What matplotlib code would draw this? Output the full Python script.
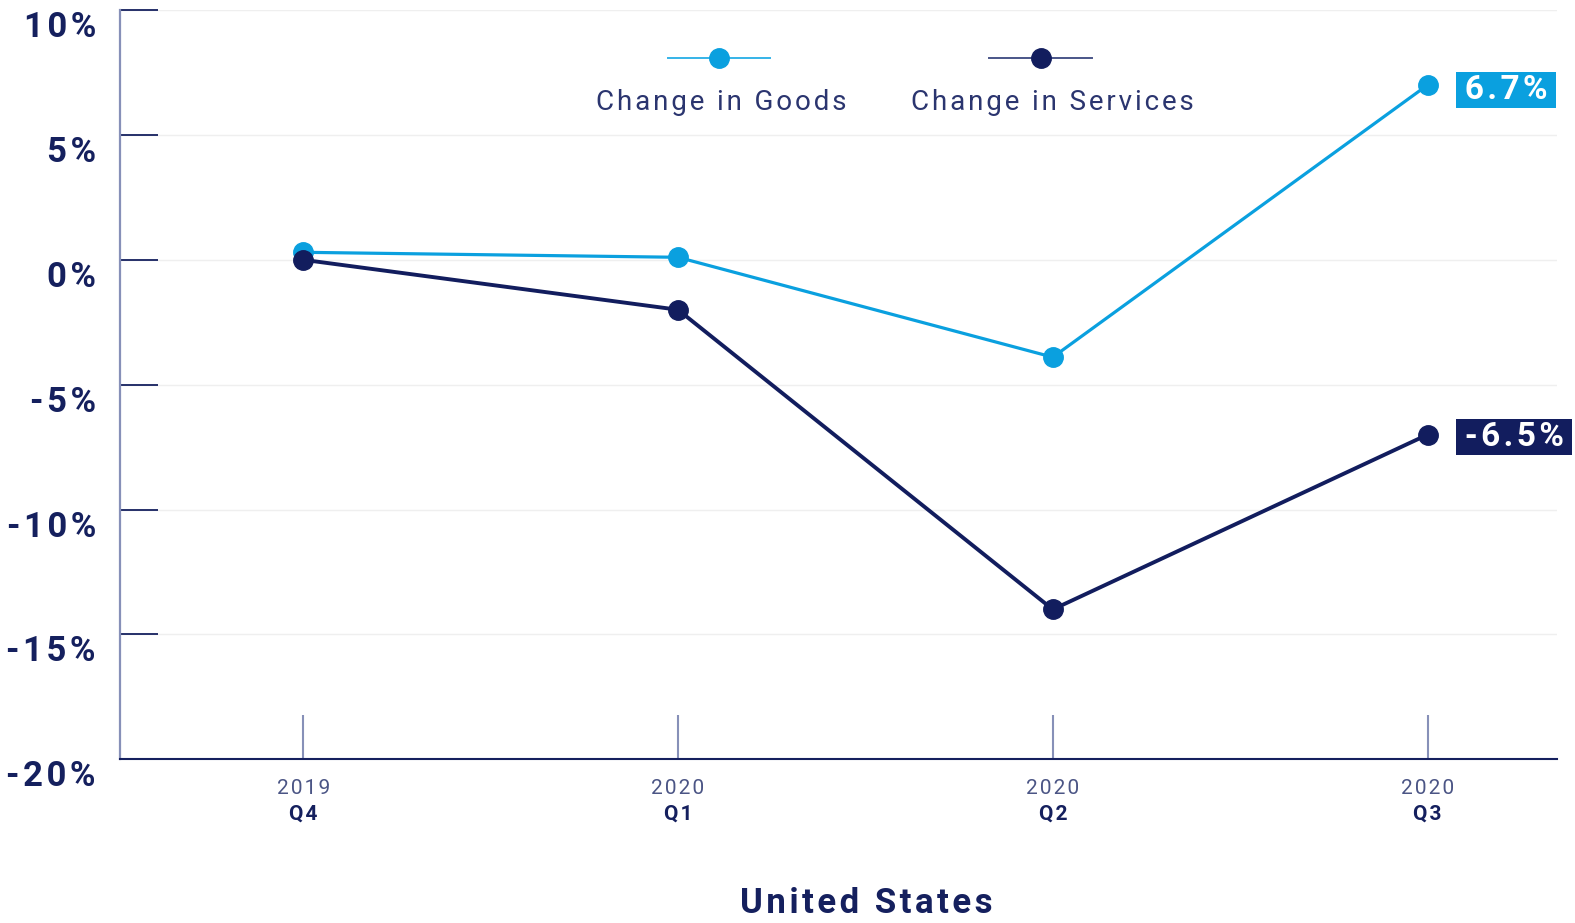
import matplotlib
matplotlib.use("Agg")
import matplotlib.pyplot as plt
from matplotlib.lines import Line2D
from matplotlib.transforms import ScaledTranslation, blended_transform_factory

plt.rcParams['font.family'] = ['Roboto', 'DejaVu Sans']

# ---- data ----
years = ["2019", "2020", "2020", "2020"]
quarters = ["Q4", "Q1", "Q2", "Q3"]
goods = [0.3, 0.1, -3.9, 7.0]
services = [0.0, -2.0, -14.0, -7.0]
end_labels = ["6.7%", "-6.5%"]
yticks = [10, 5, 0, -5, -10, -15, -20]
ytick_labels = ["10%", "5%", "0%", "-5%", "-10%", "-15%", "-20%"]
series_names = ["Change in Goods", "Change in Services"]
title = "United States"

GOODS_C = "#0aa0df"
SERV_C = "#121d5e"
NAVY = "#15205e"
AXIS_GRAY = "#8790b8"

THIN = "\u2009"
HAIR = "\u200a"


def track(s, sp):
    return sp.join(s)


W, H = 1575, 923
SX, SY = 1575 / 1568, 923 / 919


def fx(px):
    return px * SX / W


def fy(py):
    return 1 - py * SY / H


fig = plt.figure(figsize=(W / 100, H / 100), dpi=100)
ax = fig.add_axes([fx(119), fy(756), fx(1550) - fx(119), fy(10) - fy(756)])

x = list(range(len(quarters)))
ax.plot(x, goods, color=GOODS_C, lw=2.3, marker="o", ms=14, zorder=3)
ax.plot(x, services, color=SERV_C, lw=2.8, marker="o", ms=14, zorder=4)

ax.set_xlim(-0.49, 3.345)
ax.set_ylim(-20, 10)

# y axis
ax.set_yticks(yticks)
ax.set_yticklabels([track(t, HAIR) for t in ytick_labels], fontsize=25,
                   fontweight="bold", color=NAVY)
ax.tick_params(axis="y", direction="in", length=27, width=1.3, color=NAVY, pad=17)
off = ScaledTranslation(0, -0.14, fig.dpi_scale_trans)
for lab in ax.get_yticklabels():
    lab.set_transform(lab.get_transform() + off)
ax.grid(axis="y", color="#efefef", lw=1.0, zorder=0)

# x axis
ax.set_xticks(x)
ax.set_xticklabels([])
ax.tick_params(axis="x", direction="in", length=32, width=1.5, color=AXIS_GRAY)
tr = blended_transform_factory(ax.transData, ax.transAxes)
for xi, yr, q in zip(x, years, quarters):
    ax.text(xi, -0.039, track(yr, HAIR), transform=tr, ha="center", va="center",
            fontsize=15, color="#4b5585")
    ax.text(xi, -0.073, track(q, HAIR), transform=tr, ha="center", va="center",
            fontsize=15, fontweight="bold", color=NAVY)

for s in ["top", "right"]:
    ax.spines[s].set_visible(False)
ax.spines["left"].set_color(AXIS_GRAY)
ax.spines["left"].set_linewidth(1.6)
ax.spines["bottom"].set_color(NAVY)
ax.spines["bottom"].set_linewidth(1.5)

# end labels
for vals, lab, col, dy in [(goods, end_labels[0], GOODS_C, -5), (services, end_labels[1], SERV_C, -2)]:
    ax.annotate(THIN + track(lab, HAIR) + THIN, xy=(x[-1], vals[-1]), xytext=(30, dy),
                textcoords="offset pixels",
                ha="left", va="center", fontsize=24, fontweight="bold", color="white",
                bbox=dict(boxstyle="square,pad=0.06", fc=col, ec="none"), zorder=5)

# legend (custom, marker above text)
for cx, tx, name, col, lcol in [(716, 718, series_names[0], GOODS_C, "#35b3e8"),
                                (1036, 1048, series_names[1], SERV_C, "#4a5588")]:
    fig.add_artist(Line2D([fx(cx - 51), fx(cx + 51)], [fy(58), fy(58)], color=lcol, lw=1.4,
                          transform=fig.transFigure))
    fig.add_artist(Line2D([fx(cx)], [fy(58)], marker="o", ms=14, color=col, lw=0,
                          transform=fig.transFigure))
    fig.text(fx(tx), fy(102), track(name, HAIR), ha="center", va="center",
             fontsize=20, color="#2b356f")

fig.text(fx(862), fy(900), track(title, HAIR), ha="center", va="center", fontsize=25,
         fontweight="bold", color=NAVY)

fig.savefig("out.png", dpi=100, facecolor="white")
